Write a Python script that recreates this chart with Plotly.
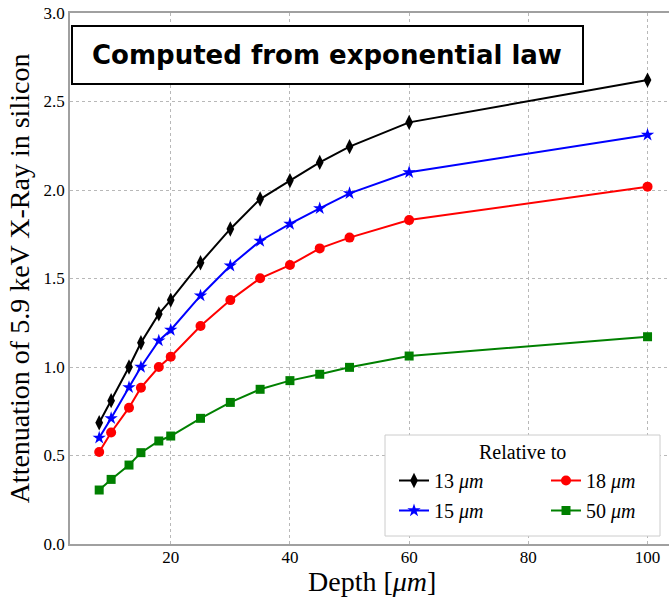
import plotly.graph_objects as go

depth = [8, 10, 13, 15, 18, 20, 25, 30, 35, 40, 45, 50, 60, 100]
att_13 = [0.685, 0.81, 1.00, 1.137, 1.30, 1.378, 1.589, 1.78, 1.949, 2.053, 2.156, 2.245, 2.382, 2.621]
att_15 = [0.60, 0.71, 0.885, 1.00, 1.149, 1.209, 1.403, 1.572, 1.712, 1.808, 1.896, 1.981, 2.10, 2.311]
att_18 = [0.52, 0.63, 0.77, 0.883, 1.00, 1.058, 1.232, 1.378, 1.501, 1.576, 1.670, 1.731, 1.83, 2.019]
att_50 = [0.305, 0.365, 0.446, 0.516, 0.582, 0.61, 0.71, 0.80, 0.874, 0.923, 0.959, 0.998, 1.062, 1.171]

labels = ["13 <i>μm</i>", "15 <i>μm</i>", "18 <i>μm</i>", "50 <i>μm</i>"]
colors = ["black", "#0000ff", "#ff0000", "#008000"]
symbols = ["diamond-tall", "star", "circle", "square"]
msizes = [11, 10, 10, 9]
series = [att_13, att_15, att_18, att_50]
legend_ids = ["legend", "legend", "legend2", "legend2"]

W, H = 669, 597
ML, MR, MT, MB = 70, 0, 13, 53
PW, PH = W - ML - MR, H - MT - MB


def px(x):
    return (x - ML) / PW


def py(y):
    return (H - MB - y) / PH


fig = go.Figure()
for i in range(4):
    fig.add_trace(go.Scatter(
        x=depth, y=series[i], mode="lines+markers", name=labels[i],
        line=dict(color=colors[i], width=2),
        marker=dict(symbol=symbols[i], size=msizes[i], color=colors[i]),
        legend=legend_ids[i], legendgroup=str(i),
    ))

serif = "Liberation Serif"
grid = dict(showgrid=True, gridcolor="#b8b8b8", griddash="dot", gridwidth=1,
            zeroline=False, showline=True, linecolor="#a0a0a0", linewidth=1.5,
            ticks="", tickfont=dict(family=serif, size=17, color="black"))

fig.update_layout(
    width=W, height=H,
    font=dict(family=serif, color="black"),
    margin=dict(l=ML, r=MR, t=MT, b=MB, pad=0),
    paper_bgcolor="white", plot_bgcolor="white",
    xaxis=dict(range=[3.1, 103.6], tickvals=[20, 40, 60, 80, 100], mirror=True,
               ticklabelstandoff=-3, **grid),
    yaxis=dict(range=[0, 3.0], tickvals=[0, 0.5, 1.0, 1.5, 2.0, 2.5, 3.0], tickformat=".1f", mirror=False,
               title=dict(text="Attenuation of 5.9 keV X-Ray in silicon", font=dict(family=serif, size=28, color="black"), standoff=6),
               **grid),
    legend=dict(x=px(394), y=py(461), xanchor="left", yanchor="top", orientation="v",
                bgcolor="rgba(0,0,0,0)", borderwidth=0, tracegroupgap=1,
                font=dict(family=serif, size=20, color="black")),
    legend2=dict(x=px(546), y=py(461), xanchor="left", yanchor="top", orientation="v",
                 bgcolor="rgba(0,0,0,0)", borderwidth=0, tracegroupgap=1,
                 font=dict(family=serif, size=20, color="black")),
    shapes=[
        dict(type="rect", xref="paper", yref="paper", x0=px(72), x1=px(583), y0=py(84), y1=py(26),
             line=dict(color="black", width=2), fillcolor="white", layer="above"),
        dict(type="rect", xref="paper", yref="paper", x0=px(385), x1=px(660), y0=py(536), y1=py(435),
             line=dict(color="#cccccc", width=1), fillcolor="white", layer="above"),
    ],
    annotations=[
        dict(text="<b>Computed from exponential law</b>", xref="paper", yref="paper",
             x=px(327), y=py(55), xanchor="center", yanchor="middle", showarrow=False,
             font=dict(family="DejaVu Sans", size=26, color="black")),
        dict(text="Relative to", xref="paper", yref="paper",
             x=px(522), y=py(452), xanchor="center", yanchor="middle", showarrow=False,
             font=dict(family=serif, size=20, color="black")),
        dict(text="Depth [<i>μm</i>]", xref="paper", yref="paper",
             x=px(372), y=py(581), xanchor="center", yanchor="middle", showarrow=False,
             font=dict(family=serif, size=28, color="black")),
    ],
)

fig.write_html("out.html")
